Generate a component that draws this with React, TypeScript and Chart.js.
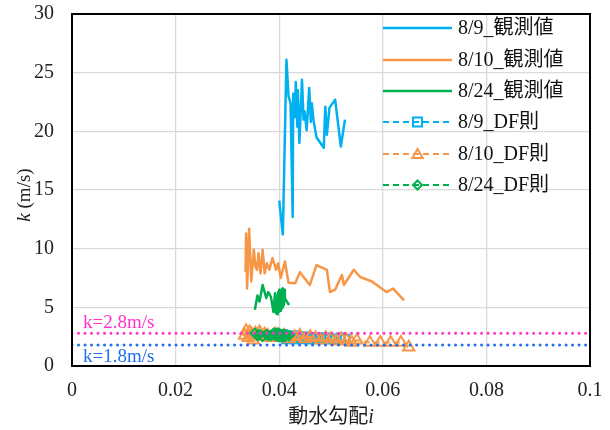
import React, { useEffect, useRef } from "react";
import { Chart, registerables } from "chart.js";

Chart.register(...registerables);

// ---- data ----
const blueI = [0.0400, 0.0407, 0.0414, 0.0418, 0.0422, 0.0426, 0.0427, 0.0430, 0.0432, 0.0435, 0.0436, 0.0439, 0.0444, 0.0447, 0.0449, 0.0453, 0.0458, 0.0461, 0.0463, 0.0466, 0.0472, 0.0486, 0.0489, 0.0492, 0.0497, 0.0508, 0.0519, 0.0527];
const blueK = [14.1, 11.2, 26.1, 23.0, 22.4, 12.7, 23.2, 21.2, 24.2, 20.4, 23.5, 19.0, 24.4, 21.0, 21.7, 20.1, 23.7, 20.8, 22.4, 21.0, 19.5, 18.6, 22.1, 19.7, 22.0, 22.7, 18.7, 21.0];

const orangeI = [0.0335, 0.0336, 0.0338, 0.0342, 0.0346, 0.0351, 0.0354, 0.0357, 0.0360, 0.0364, 0.0368, 0.0372, 0.0376, 0.0381, 0.0387, 0.0394, 0.0398, 0.0403, 0.0411, 0.0418, 0.0431, 0.0440, 0.0459, 0.0472, 0.0492, 0.0498, 0.0508, 0.0521, 0.0525, 0.0544, 0.0556, 0.0579, 0.0607, 0.0620, 0.0641];
const orangeK = [8.0, 11.3, 6.6, 11.7, 7.2, 9.9, 8.5, 8.2, 9.6, 7.9, 9.9, 7.9, 8.75, 8.2, 9.2, 8.2, 8.75, 7.5, 8.9, 7.1, 7.05, 8.0, 6.9, 8.6, 8.2, 6.3, 6.5, 7.75, 6.9, 8.2, 7.6, 7.2, 6.3, 6.6, 5.6];

const greenI = [0.0353, 0.0358, 0.0362, 0.0368, 0.0375, 0.0379, 0.0384, 0.0389, 0.0392, 0.0394, 0.0396, 0.0397, 0.0398, 0.0399, 0.0400, 0.0401, 0.0402, 0.0403, 0.0404, 0.0405, 0.0406, 0.0407, 0.0408, 0.0409, 0.0410, 0.0411, 0.0413, 0.0419];
const greenK = [4.8, 6.0, 5.5, 6.9, 5.8, 6.3, 5.9, 4.6, 6.2, 4.5, 6.0, 4.4, 6.3, 4.6, 6.5, 4.8, 6.2, 4.7, 6.4, 4.9, 6.6, 5.0, 6.3, 5.2, 6.5, 5.8, 5.6, 5.2];

const blueDfK = [2.6, 2.7, 2.3, 2.4, 2.4, 2.6, 2.4, 2.4, 2.3, 2.5, 2.4, 2.5, 2.3, 2.4, 2.4, 2.5, 2.3, 2.4, 2.3, 2.4, 2.4, 2.4, 2.3, 2.4, 2.3, 2.3, 2.4, 2.3];

const orangeDfI = [0.0333, 0.0336, 0.0340, 0.0343, 0.0347, 0.0350, 0.0354, 0.0358, 0.0362, 0.0367, 0.0372, 0.0378, 0.0385, 0.0392, 0.0400, 0.0410, 0.0420, 0.0430, 0.0440, 0.0450, 0.0460, 0.0470, 0.0480, 0.0490, 0.0500, 0.0510, 0.0520, 0.0530, 0.0540, 0.0550, 0.0575, 0.0595, 0.0615, 0.0635, 0.0650];
const orangeDfK = [2.6, 3.0, 2.4, 2.9, 2.7, 2.2, 2.8, 2.6, 2.9, 2.5, 2.7, 2.6, 2.4, 2.7, 2.5, 2.6, 2.3, 2.5, 2.6, 2.3, 2.5, 2.4, 2.2, 2.4, 2.3, 2.1, 2.3, 2.2, 2.0, 2.2, 2.0, 2.0, 2.0, 2.0, 1.6];

const greenDfK = [2.8, 2.6, 2.7, 2.5, 2.7, 2.6, 2.6, 2.8, 2.6, 2.8, 2.6, 2.8, 2.5, 2.8, 2.5, 2.7, 2.5, 2.7, 2.5, 2.6, 2.6, 2.7, 2.5, 2.7, 2.5, 2.6, 2.6, 2.6];

const refK = [2.8, 1.8];
const refLabels = ["k=2.8m/s", "k=1.8m/s"];
const seriesNames = ["8/9_観測値", "8/10_観測値", "8/24_観測値", "8/9_DF則", "8/10_DF則", "8/24_DF則"];
const xTickLabels = ["0", "0.02", "0.04", "0.06", "0.08", "0.1"];
const yTickLabels = ["0", "5", "10", "15", "20", "25", "30"];

// ---- styles ----
const BLUE = "#00B0F0";
const ORANGE = "#F79646";
const GREEN = "#00B050";
const PINK = "#FF33CC";
const REFBLUE = "#1F6FEF";
const FONT = '"Liberation Serif", "Noto Sans CJK JP", serif';

const pts = (xs: number[], ys: number[]) => xs.map((x, i) => ({ x, y: ys[i] }));

type LegendItem = { color: string; dashed: boolean; marker: string | null };
const legendItems: LegendItem[] = [
  { color: BLUE, dashed: false, marker: null },
  { color: ORANGE, dashed: false, marker: null },
  { color: GREEN, dashed: false, marker: null },
  { color: BLUE, dashed: true, marker: "rect" },
  { color: ORANGE, dashed: true, marker: "triangle" },
  { color: GREEN, dashed: true, marker: "rectRot" },
];

function drawMarker(ctx: CanvasRenderingContext2D, style: string, x: number, y: number, color: string) {
  ctx.save();
  ctx.strokeStyle = color;
  ctx.lineWidth = 2;
  ctx.setLineDash([]);
  ctx.beginPath();
  if (style === "rect") {
    const s = 4.5;
    ctx.rect(x - s, y - s, 2 * s, 2 * s);
  } else if (style === "triangle") {
    const r = 6;
    for (let k = 0; k < 3; k++) {
      const a = (k * 2 * Math.PI) / 3;
      const px = x + Math.sin(a) * r;
      const py = y - Math.cos(a) * r + 1;
      if (k === 0) ctx.moveTo(px, py);
      else ctx.lineTo(px, py);
    }
    ctx.closePath();
  } else {
    const r = 4.5;
    ctx.moveTo(x, y - r);
    ctx.lineTo(x + r, y);
    ctx.lineTo(x, y + r);
    ctx.lineTo(x - r, y);
    ctx.closePath();
  }
  ctx.stroke();
  ctx.restore();
}

const overlayPlugin = {
  id: "overlay",
  afterDraw(chart: any) {
    const { ctx, chartArea: a, scales } = chart;
    const ys = scales.y;
    ctx.save();
    // plot border
    ctx.strokeStyle = "#000";
    ctx.lineWidth = 2;
    ctx.setLineDash([]);
    ctx.strokeRect(a.left, a.top, a.right - a.left, a.bottom - a.top);

    // reference labels
    ctx.font = "19px " + FONT;
    ctx.textAlign = "left";
    ctx.textBaseline = "alphabetic";
    ctx.fillStyle = PINK;
    ctx.fillText(refLabels[0], a.left + 11, ys.getPixelForValue(refK[0]) - 5);
    ctx.fillStyle = REFBLUE;
    ctx.fillText(refLabels[1], a.left + 11, ys.getPixelForValue(refK[1]) + 17);

    // legend
    const rows = [28, 60, 91, 122, 154, 185];
    const x0 = 383;
    const x1 = 452;
    legendItems.forEach((it, i) => {
      const yy = rows[i];
      ctx.save();
      ctx.strokeStyle = it.color;
      ctx.lineWidth = it.dashed ? 2 : 2.5;
      ctx.setLineDash(it.dashed ? [6, 4] : []);
      ctx.beginPath();
      ctx.moveTo(x0, yy);
      ctx.lineTo(x1, yy);
      ctx.stroke();
      ctx.restore();
      if (it.marker) drawMarker(ctx, it.marker, (x0 + x1) / 2, yy, it.color);
      ctx.fillStyle = "#111";
      ctx.font = "20px " + FONT;
      ctx.textBaseline = "middle";
      ctx.textAlign = "left";
      ctx.fillText(seriesNames[i], 458, yy + 1);
    });

    // x axis title
    ctx.fillStyle = "#222";
    ctx.textBaseline = "alphabetic";
    const t1 = "動水勾配";
    ctx.font = "italic 20px " + FONT;
    const w2 = ctx.measureText("i").width;
    ctx.font = "20px " + FONT;
    const w1 = ctx.measureText(t1).width;
    const cx = (a.left + a.right) / 2;
    const by = 423;
    ctx.textAlign = "left";
    ctx.fillText(t1, cx - (w1 + w2) / 2, by);
    ctx.font = "italic 20px " + FONT;
    ctx.fillText("i", cx - (w1 + w2) / 2 + w1, by);

    // y axis title
    ctx.save();
    ctx.translate(30, (a.top + a.bottom) / 2 + 5);
    ctx.rotate(-Math.PI / 2);
    ctx.font = "italic 19px " + FONT;
    const kw = ctx.measureText("k").width;
    ctx.font = "19px " + FONT;
    const rw = ctx.measureText(" (m/s)").width;
    const sx = -(kw + rw) / 2;
    ctx.font = "italic 19px " + FONT;
    ctx.fillText("k", sx, 0);
    ctx.font = "19px " + FONT;
    ctx.fillText(" (m/s)", sx + kw, 0);
    ctx.restore();

    ctx.restore();
  },
};

export default function App() {
  const ref = useRef<HTMLCanvasElement | null>(null);

  useEffect(() => {
    document.body.style.margin = "0";
    const canvas = ref.current;
    if (!canvas) return;

    const obs = (data: any, color: string, order: number) => ({
      data,
      showLine: true,
      borderColor: color,
      backgroundColor: color,
      borderWidth: 2.5,
      borderJoinStyle: "round",
      pointRadius: 0,
      tension: 0,
      order,
    });
    const df = (data: any, color: string, style: string, radius: number, order: number) => ({
      data,
      showLine: true,
      borderColor: color,
      backgroundColor: color,
      borderWidth: 2,
      borderDash: [6, 4],
      pointStyle: style,
      pointRadius: radius,
      pointBorderWidth: 2,
      pointBorderColor: color,
      pointBackgroundColor: "rgba(255,255,255,0)",
      tension: 0,
      order,
    });
    const refLine = (k: number, color: string) => ({
      data: [
        { x: 0, y: k },
        { x: 0.1, y: k },
      ],
      showLine: true,
      borderColor: color,
      borderWidth: 3,
      borderCapStyle: "round",
      borderDash: [0.001, 6.5],
      pointRadius: 0,
      order: 0,
    });

    const chart = new Chart(canvas, {
      type: "scatter",
      data: {
        datasets: [
          obs(pts(blueI, blueK), BLUE, 9),
          obs(pts(orangeI, orangeK), ORANGE, 8),
          obs(pts(greenI, greenK), GREEN, 7),
          df(pts(blueI, blueDfK), BLUE, "rect", 6, 6),
          df(pts(orangeDfI, orangeDfK), ORANGE, "triangle", 6.5, 5),
          df(pts(greenI, greenDfK), GREEN, "rectRot", 4.5, 4),
          refLine(refK[0], PINK),
          refLine(refK[1], REFBLUE),
        ] as any,
      },
      options: {
        responsive: false,
        animation: false,
        layout: { autoPadding: false, padding: { top: 14, right: 20, left: 0, bottom: 0 } },
        plugins: {
          legend: { display: false },
          tooltip: { enabled: false },
        },
        scales: {
          x: {
            type: "linear",
            min: 0,
            max: 0.1,
            afterFit: (s: any) => {
              s.height = 64;
              s.paddingLeft = 0;
              s.paddingRight = 0;
            },
            afterBuildTicks: (s: any) => {
              s.ticks = xTickLabels.map((_, i) => ({ value: i * 0.02 }));
            },
            ticks: {
              callback: (_v: any, i: number) => xTickLabels[i],
              font: { family: FONT, size: 20 },
              color: "#222",
              padding: 13,
              maxRotation: 0,
            },
            grid: { color: "#D9D9D9", lineWidth: 1.3, drawTicks: false },
            border: { display: false },
          },
          y: {
            type: "linear",
            min: 0,
            max: 30,
            afterFit: (s: any) => {
              s.width = 72;
              s.paddingTop = 0;
              s.paddingBottom = 0;
            },
            afterBuildTicks: (s: any) => {
              s.ticks = yTickLabels.map((_, i) => ({ value: i * 5 }));
            },
            ticks: {
              callback: (_v: any, i: number) => yTickLabels[i],
              font: { family: FONT, size: 20 },
              color: "#222",
              padding: 18,
            },
            grid: { color: "#D9D9D9", lineWidth: 1.3, drawTicks: false },
            border: { display: false },
          },
        },
      } as any,
      plugins: [overlayPlugin],
    });

    return () => chart.destroy();
  }, []);

  return (
    <div style={{ width: 610, height: 430, position: "relative", background: "#fff" }}>
      <canvas ref={ref} width={610} height={430} style={{ display: "block" }} />
    </div>
  );
}
